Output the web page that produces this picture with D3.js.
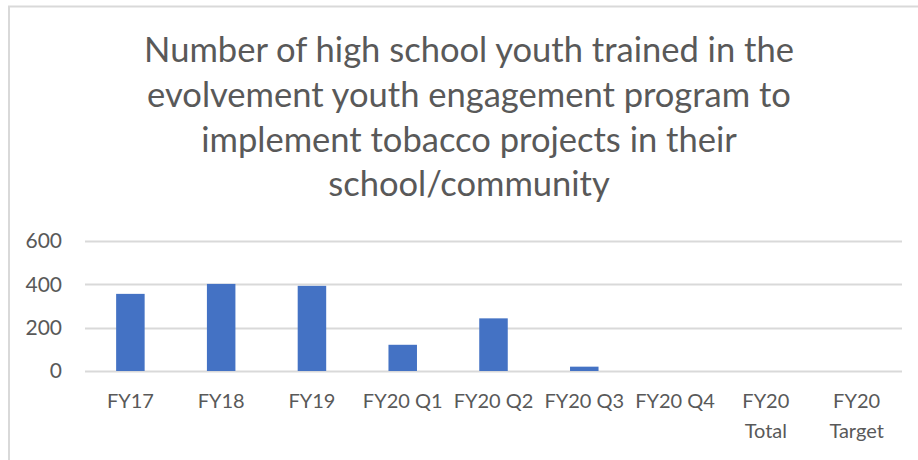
<!DOCTYPE html>
<html>
<head>
<meta charset="utf-8">
<script src="https://cdn.jsdelivr.net/npm/d3@7"></script>
<style>
  body { margin: 0; background: #fff; }
  text { font-family: Lato, "Open Sans", sans-serif; fill: #595959; }
</style>
</head>
<body>
<svg id="chart"></svg>
<script>
// data
const categories = ["FY17", "FY18", "FY19", "FY20 Q1", "FY20 Q2", "FY20 Q3", "FY20 Q4", "FY20 Total", "FY20 Target"];
const values = [356, 402, 393, 121, 243, 20, 0, null, null];
const yTicks = [0, 200, 400, 600];
const titleLines = [
  "Number of high school youth trained in the",
  "evolvement youth engagement program to",
  "implement tobacco projects in their",
  "school/community"
];

const W = 918, H = 460;
const margin = { top: 241, right: 16, bottom: 89, left: 85 };
const width = W - margin.left - margin.right;
const height = H - margin.top - margin.bottom;

const svg = d3.select("#chart").attr("width", W).attr("height", H);

// chart border (only left and top show in the crop)
svg.append("path")
  .attr("d", `M9,${H} L9,6.5 L${W},6.5`)
  .attr("fill", "none")
  .attr("stroke", "#d9d9d9")
  .attr("stroke-width", 2);

// title, font size fitted so the first line is ~650px wide
const title = svg.append("g").attr("transform", "translate(469,0)");
const probe = title.append("text").style("font-size", "36px").text(titleLines[0]);
const titleSize = 36 * 650 / probe.node().getComputedTextLength();
probe.remove();
title.selectAll("text")
  .data(titleLines)
  .join("text")
  .attr("text-anchor", "middle")
  .attr("y", (d, i) => 62 + i * 44.8)
  .style("font-size", titleSize + "px")
  .text((d) => d);

const g = svg.append("g").attr("transform", `translate(${margin.left},${margin.top})`);

const xScale = d3.scaleBand().domain(categories).range([0, width]).paddingInner(0.686).paddingOuter(0.343);
const xBand = d3.scaleBand().domain(categories).range([0, width]);
const yScale = d3.scaleLinear().domain([0, 600]).range([height, 0]);

// gridlines
g.append("g")
  .selectAll("line")
  .data(yTicks)
  .join("line")
  .attr("x1", 0)
  .attr("x2", width)
  .attr("y1", (d) => Math.round(yScale(d)) + 0.5)
  .attr("y2", (d) => Math.round(yScale(d)) + 0.5)
  .attr("stroke", "#d9d9d9")
  .attr("stroke-width", 2);

// y axis labels
const yAxis = g.append("g")
  .call(d3.axisLeft(yScale).tickValues(yTicks).tickSize(0).tickPadding(23));
yAxis.select(".domain").remove();
yAxis.selectAll("text").style("font-size", "21px").attr("fill", "#595959").style("font-family", null);

// bars
g.selectAll(".bar")
  .data(categories.map((c, i) => ({ c, v: values[i] })).filter((d) => d.v != null && d.v > 0))
  .join("rect")
  .attr("class", "bar")
  .attr("x", (d) => xScale(d.c))
  .attr("y", (d) => yScale(d.v))
  .attr("width", xScale.bandwidth())
  .attr("height", (d) => yScale(0) - yScale(d.v))
  .attr("fill", "#4472c4");

// x labels, wrapped on a space after "FY20" when the band is too narrow
const xLab = g.append("g").attr("transform", `translate(0,${height})`);
categories.forEach((c) => {
  const cx = xBand(c) + xBand.bandwidth() / 2;
  const lines = (c === "FY20 Total" || c === "FY20 Target") ? c.split(" ") : [c];
  const t = xLab.append("text")
    .attr("text-anchor", "middle")
    .attr("x", cx)
    .attr("y", 37)
    .style("font-size", "20px");
  lines.forEach((l, i) => {
    t.append("tspan").attr("x", cx).attr("dy", i === 0 ? 0 : 30).text(l);
  });
});
</script>
</body>
</html>
